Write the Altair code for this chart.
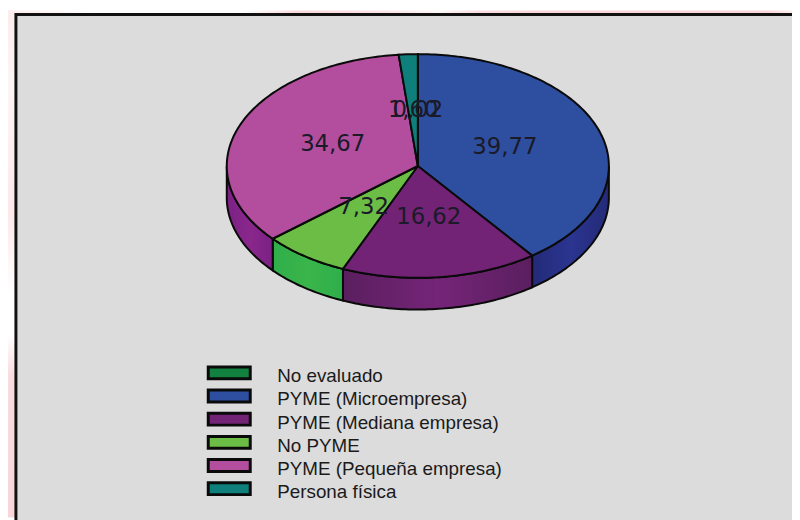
import math
import altair as alt
import pandas as pd

categories = ["No evaluado", "PYME (Microempresa)", "PYME (Mediana empresa)", "No PYME", "PYME (Pequeña empresa)", "Persona física"]
values = [0.02, 39.77, 16.62, 7.32, 34.67, 1.60]
labels = ["0,02", "39,77", "16,62", "7,32", "34,67", "1,60"]
top_colors = ["#12803f", "#2e4ea0", "#732376", "#6cbd45", "#b24e9d", "#0f7f7c"]
wall_edge = ["#12803f", "#232a78", "#5a1f5e", "#2fae4a", "#7a2283", "#0f7f7c"]
wall_mid = ["#12803f", "#2b3590", "#752478", "#3ab54a", "#8a278c", "#0f7f7c"]

RX, RY, DEPTH = 193.0, 113.0, 32.0
CX, CY = 422.0, 165.0
W, H = 792, 512
xs = alt.Scale(domain=[8, 8 + W], range=[0, W])
ys = alt.Scale(domain=[8, 8 + H], range=[0, H])
X = lambda: alt.X("x:Q", scale=xs, axis=None)
Y = lambda: alt.Y("y:Q", scale=ys, axis=None)


def pt(deg, r=1.0, dy=0.0):
    a = math.radians(deg)
    return CX + RX * r * math.sin(a), CY - RY * r * math.cos(a) + dy


def stops(*pairs):
    return [alt.GradientStop(offset=o, color=c) for o, c in pairs]


bounds = []
acc = 0.0
for v in values:
    bounds.append((acc * 3.6, (acc + v) * 3.6))
    acc += v

one = pd.DataFrame({"a": [0]})
layers = []

# faint backdrop strips
layers.append(
    alt.Chart(one).mark_rect(
        fill=alt.Gradient(gradient="linear", x1=0, x2=1, y1=0, y2=0, stops=stops(
            (0, "#fcecec"), (0.12, "#ffffff"), (0.3, "#ffffff"), (0.37, "#f8d8da"), (0.48, "#fbe4e8"),
            (0.55, "#fcf6f6"), (0.6, "#f9dde0"), (0.66, "#f8d8da"), (0.97, "#f8d8da"), (1, "#fdeeee"),
        ))
    ).encode(x=alt.value(0), x2=alt.value(W), y=alt.value(0), y2=alt.value(8))
)
layers.append(
    alt.Chart(one).mark_rect(
        fill=alt.Gradient(gradient="linear", x1=0, x2=0, y1=0, y2=1, stops=stops(
            (0, "#fcecec"), (0.15, "#fdf5f5"), (0.4, "#fde8ea"), (0.56, "#ffffff"), (0.64, "#ffffff"),
            (0.72, "#f8dcdf"), (1, "#f8d6d9"),
        ))
    ).encode(x=alt.value(0), x2=alt.value(8), y=alt.value(0), y2=alt.value(H))
)

# card
layers.append(
    alt.Chart(one).mark_rect(fill="#dcdcdc", stroke="#111111", strokeWidth=3).encode(
        x=alt.value(8), x2=alt.value(W + 20), y=alt.value(4), y2=alt.value(H + 20)
    )
)

# walls
for i, (a0, a1) in enumerate(bounds):
    lo, hi = max(a0, 90), min(a1, 270)
    if hi <= lo:
        continue
    n = max(2, int(hi - lo))
    arc = [lo + (hi - lo) * k / n for k in range(n + 1)]
    rows = [pt(d) for d in arc] + [pt(d, dy=DEPTH) for d in reversed(arc)]
    rows.append(rows[0])
    df = pd.DataFrame({"x": [r[0] for r in rows], "y": [r[1] for r in rows], "o": range(len(rows))})
    grad = alt.Gradient(
        gradient="linear", x1=0, x2=1, y1=0, y2=0,
        stops=stops((0, wall_edge[i]), (0.5, wall_mid[i]), (1, wall_edge[i])),
    )
    layers.append(
        alt.Chart(df).mark_line(fill=grad, stroke="#0a0a0a", strokeWidth=2, clip=False).encode(
            x=X(), y=Y(), order="o:Q"
        )
    )

# top faces
rows = []
for i, (a0, a1) in enumerate(bounds):
    n = max(2, int(a1 - a0))
    ring = [pt(a0 + (a1 - a0) * k / n) for k in range(n + 1)]
    poly = [(CX, CY)] + ring + [(CX, CY)]
    for k, (x, y) in enumerate(poly):
        rows.append({"cat": categories[i], "x": x, "y": y, "o": k})
layers.append(
    alt.Chart(pd.DataFrame(rows)).mark_line(strokeWidth=2, stroke="#0a0a0a", filled=True).encode(
        x=X(), y=Y(), order="o:Q", detail="cat:N",
        fill=alt.Fill(
            "cat:N",
            scale=alt.Scale(domain=categories, range=top_colors),
            sort=categories,
            legend=alt.Legend(
                title=None, orient="none", legendX=214, legendY=360,
                symbolType="M-3,-1.35H3V0.35H-3Z", symbolSize=200,
                symbolStrokeColor="#0a0a0a", symbolStrokeWidth=3, symbolOpacity=1,
                labelFont="Liberation Sans", labelFontSize=19, labelColor="#1a1a1a",
                rowPadding=-3.6, labelOffset=39, labelLimit=400,
            ),
        ),
    )
)

# labels
lab = []
for i, (a0, a1) in enumerate(bounds):
    x, y = pt((a0 + a1) / 2, 0.48)
    lab.append({"x": x, "y": y - 2, "t": labels[i]})
layers.append(
    alt.Chart(pd.DataFrame(lab)).mark_text(
        font="DejaVu Sans", fontSize=23, color="#1a1a28", align="center", baseline="middle"
    ).encode(x=X(), y=Y(), text="t:N")
)

chart = alt.layer(*layers).properties(
    width=W, height=H, padding=0, background="#ffffff",
    autosize=alt.AutoSizeParams(type="none"),
).configure_view(stroke=None)

chart.save("out.html", embed_options={"renderer": "svg", "actions": False})
